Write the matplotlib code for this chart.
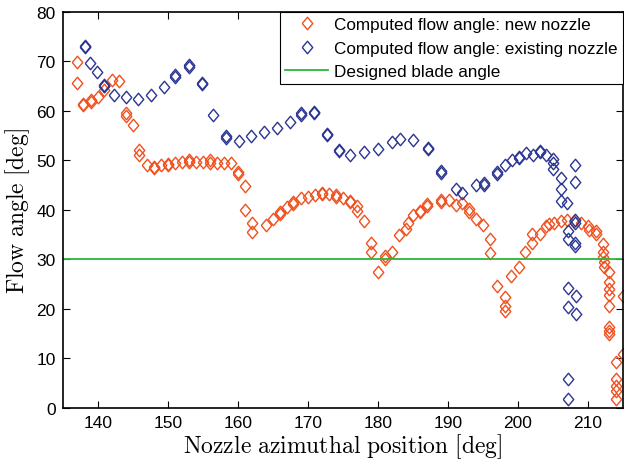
import matplotlib
matplotlib.use("Agg")
import matplotlib.pyplot as plt

plt.rcParams["font.family"] = ["Liberation Sans", "DejaVu Sans"]
plt.rcParams["mathtext.fontset"] = "cm"

# computed flow angle, new nozzle
new_x = [137.0, 137.0, 137.9, 137.9, 139.0, 139.0, 140.0, 140.9, 140.9, 142.0,
         143.1, 144.0, 144.0, 145.0, 145.9, 145.9, 147.0, 148.0, 148.0, 149.0,
         150.0, 150.0, 151.0, 152.0, 153.0, 153.0, 154.0, 155.1, 156.0, 156.0,
         157.0, 158.1, 159.1, 160.1, 160.1, 161.1, 161.1, 162.0, 162.1, 164.0,
         165.1, 166.0, 166.0, 167.1, 167.9, 167.9, 169.1, 170.1, 171.1, 172.1,
         172.1, 173.1, 174.0, 174.0, 175.1, 176.0, 176.0, 177.0, 177.1, 178.1,
         179.1, 179.1, 180.1, 181.0, 181.0, 182.1, 183.1, 184.1, 184.3, 185.1,
         186.0, 186.0, 187.1, 187.1, 189.1, 189.1, 190.2, 191.2, 192.1, 193.1,
         193.1, 194.1, 195.1, 196.1, 196.1, 197.1, 198.2, 198.2, 198.2, 199.1,
         200.2, 201.1, 202.1, 202.1, 203.2, 204.1, 204.5, 205.2, 206.2, 207.1,
         208.1, 209.1, 210.0, 210.2, 211.2, 211.2, 212.2, 212.2, 212.2, 212.3,
         212.3, 213.1, 213.1, 213.1, 213.1, 213.1, 213.1, 213.1, 213.1, 214.1,
         214.1, 214.1, 214.1, 214.1, 215.0, 215.0]
new_y = [69.8, 65.6, 61.4, 61.1, 62.1, 61.8, 62.8, 64.3, 65.0, 66.2,
         66.1, 59.6, 58.9, 57.1, 52.1, 51.0, 49.1, 48.7, 48.4, 49.1,
         49.3, 49.0, 49.4, 49.7, 50.0, 49.7, 49.7, 49.7, 50.0, 49.5,
         49.5, 49.4, 49.4, 47.6, 47.3, 44.8, 40.0, 37.4, 35.6, 36.9,
         38.1, 39.5, 39.2, 40.5, 41.5, 41.2, 42.5, 42.6, 43.0, 43.5,
         43.2, 43.3, 43.0, 42.7, 42.5, 41.9, 41.6, 40.7, 39.8, 37.8,
         33.4, 31.4, 27.4, 30.7, 30.0, 31.5, 34.9, 36.2, 37.4, 38.9,
         39.8, 39.5, 41.1, 40.8, 42.1, 41.6, 42.0, 40.9, 41.3, 40.1,
         39.5, 38.2, 36.9, 34.1, 31.3, 24.7, 22.4, 20.6, 19.6, 26.7,
         28.4, 31.4, 33.4, 35.1, 35.1, 36.8, 37.1, 37.4, 37.8, 38.0,
         37.7, 37.3, 36.8, 36.0, 35.8, 35.1, 33.1, 31.4, 30.5, 29.4,
         28.4, 27.4, 25.5, 24.0, 22.8, 20.6, 16.3, 15.6, 14.9, 9.2,
         5.8, 4.5, 3.5, 1.8, 22.6, 10.9]

# computed flow angle, existing nozzle
old_x = [138.2, 138.2, 138.9, 139.9, 140.9, 140.9, 142.3, 144.0, 145.8, 147.6,
         149.5, 151.1, 151.1, 153.0, 153.0, 154.9, 154.9, 156.5, 158.3, 158.3,
         160.2, 161.9, 163.8, 165.6, 167.4, 169.1, 169.1, 170.9, 170.9, 172.7,
         172.7, 174.5, 174.5, 176.0, 178.1, 180.1, 182.1, 183.2, 185.1, 187.2,
         187.2, 189.1, 189.1, 191.2, 192.1, 194.1, 195.2, 195.2, 197.1, 197.1,
         198.2, 199.2, 200.2, 200.2, 201.2, 202.2, 203.2, 203.2, 204.1, 205.1,
         205.1, 205.1, 206.2, 206.2, 206.2, 207.1, 208.2, 208.2, 208.2, 208.2,
         207.2, 207.2, 208.2, 208.2, 207.2, 208.3, 207.2, 208.3, 207.2, 207.2]
old_y = [73.2, 72.9, 69.7, 67.8, 65.3, 65.0, 63.3, 62.8, 62.5, 63.3,
         64.9, 67.2, 66.9, 69.2, 68.9, 65.7, 65.4, 59.1, 54.9, 54.6,
         54.0, 54.9, 55.8, 56.6, 57.8, 59.5, 59.2, 59.8, 59.5, 55.4,
         55.1, 52.1, 51.8, 51.0, 51.6, 52.4, 53.7, 54.4, 54.2, 52.6,
         52.3, 47.8, 47.5, 44.3, 43.5, 45.0, 45.4, 45.1, 47.6, 47.3,
         49.0, 50.0, 50.7, 50.4, 51.5, 51.1, 51.9, 51.6, 51.0, 50.2,
         49.5, 48.2, 46.4, 44.3, 41.7, 41.3, 49.0, 45.6, 38.0, 37.3,
         35.7, 34.1, 33.4, 32.7, 24.3, 22.6, 20.3, 19.0, 5.8, 1.8]

blade_angle = 30
xlim = (135, 215)
ylim = (0, 80)

diamond = [(-0.42, 0), (0, 0.5), (0.42, 0), (0, -0.5), (-0.42, 0)]

fig = plt.figure(figsize=(6.24, 4.60), dpi=100)
ax = fig.add_axes([0.1005, 0.111, 0.8975, 0.861])

ax.plot(new_x, new_y, linestyle="none", marker=diamond, markersize=9,
        markerfacecolor="none", markeredgecolor="#f0501e", markeredgewidth=1.0,
        label="Computed flow angle: new nozzle")
ax.plot(old_x, old_y, linestyle="none", marker=diamond, markersize=9,
        markerfacecolor="none", markeredgecolor="#2b3592", markeredgewidth=1.0,
        label="Computed flow angle: existing nozzle")
ax.axhline(blade_angle, color="#2cb53c", linewidth=1.3, label="Designed blade angle")

ax.set_xlim(*xlim)
ax.set_ylim(*ylim)
ax.set_xticks(range(140, 215, 10))
ax.set_yticks(range(0, 81, 10))
ax.tick_params(direction="in", top=True, right=True, length=5, width=0.8,
               labelsize=12.5, pad=5)
for s in ax.spines.values():
    s.set_linewidth(1.2)

ax.set_xlabel(r"$\mathrm{Nozzle\ azimuthal\ position\ [deg]}$", fontsize=17, labelpad=1)
ax.set_ylabel(r"$\mathrm{Flow\ angle\ [deg]}$", fontsize=17, labelpad=3)

leg = ax.legend(loc="upper right", borderaxespad=0, fontsize=12.3, fancybox=False,
                framealpha=1, edgecolor="black", handlelength=2.5, handletextpad=0.35,
                labelspacing=0.5, borderpad=0.3)
leg.get_frame().set_linewidth(0.8)

fig.savefig("out.png", dpi=100)
